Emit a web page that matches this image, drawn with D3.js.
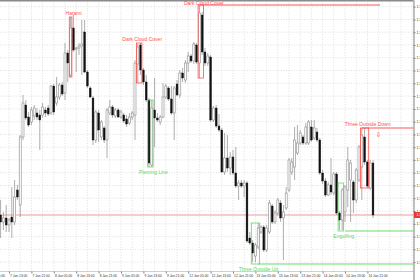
<!DOCTYPE html>
<html>
<head>
<meta charset="utf-8">
<script src="https://cdn.jsdelivr.net/npm/d3@7"></script>
<style>
  html, body { margin: 0; padding: 0; background: #fff; overflow: hidden; }
  svg { display: block; font-family: "Liberation Sans", Arial, sans-serif; }
</style>
</head>
<body>
<div id="wrapper"></div>
<script>
// H1 bars, [open, high, low, close]
const candles = [
    [1.1785, 1.1800, 1.1762, 1.1778], [1.1778, 1.1788, 1.1770, 1.1782], [1.1782, 1.1795, 1.1768, 1.1775],
    [1.1775, 1.1782, 1.1768, 1.1780], [1.1783, 1.1813, 1.1762, 1.1778], [1.1778, 1.1820, 1.1775, 1.1803],
    [1.1810, 1.1815, 1.1800, 1.1803], [1.1795, 1.1865, 1.1783, 1.1863], [1.1863, 1.1905, 1.1860, 1.1897],
    [1.1895, 1.1900, 1.1880, 1.1882], [1.1883, 1.1888, 1.1873, 1.1875], [1.1878, 1.1893, 1.1875, 1.1890],
    [1.1884, 1.1895, 1.1880, 1.1892], [1.1887, 1.1892, 1.1880, 1.1883], [1.1885, 1.1890, 1.1850, 1.1880],
    [1.1885, 1.1897, 1.1882, 1.1893], [1.1890, 1.1893, 1.1883, 1.1887], [1.1892, 1.1895, 1.1884, 1.1886],
    [1.1887, 1.1915, 1.1885, 1.1914], [1.1914, 1.1916, 1.1885, 1.1888], [1.1897, 1.1923, 1.1894, 1.1903],
    [1.1903, 1.1917, 1.1900, 1.1915], [1.1915, 1.1918, 1.1904, 1.1906], [1.1907, 1.1957, 1.1900, 1.1947],
    [1.1947, 1.1950, 1.1918, 1.1937], [1.1925, 1.1983, 1.1923, 1.1972], [1.1972, 1.1985, 1.1948, 1.1950],
    [1.1951, 1.1953, 1.1928, 1.1952], [1.1952, 1.1957, 1.1945, 1.1954], [1.1954, 1.1980, 1.1925, 1.1956],
    [1.1968, 1.1980, 1.1927, 1.1928], [1.1928, 1.1930, 1.1912, 1.1914], [1.1912, 1.1914, 1.1902, 1.1903],
    [1.1902, 1.1904, 1.1855, 1.1860], [1.1860, 1.1890, 1.1857, 1.1888], [1.1887, 1.1890, 1.1858, 1.1870],
    [1.1863, 1.1880, 1.1860, 1.1878], [1.1872, 1.1874, 1.1857, 1.1860], [1.1860, 1.1892, 1.1842, 1.1890],
    [1.1887, 1.1900, 1.1885, 1.1893], [1.1893, 1.1895, 1.1882, 1.1885], [1.1884, 1.1892, 1.1882, 1.1890],
    [1.1890, 1.1892, 1.1882, 1.1883], [1.1883, 1.1890, 1.1881, 1.1888], [1.1885, 1.1887, 1.1877, 1.1879],
    [1.1881, 1.1885, 1.1873, 1.1876], [1.1877, 1.1887, 1.1875, 1.1883], [1.1883, 1.1889, 1.1880, 1.1887],
    [1.1885, 1.1940, 1.1860, 1.1937], [1.1936, 1.1956, 1.1917, 1.1953], [1.1955, 1.1957, 1.1925, 1.1930],
    [1.1930, 1.1932, 1.1915, 1.1918], [1.1918, 1.1925, 1.1898, 1.1900], [1.1900, 1.1902, 1.1833, 1.1837],
    [1.1835, 1.1900, 1.1833, 1.1892], [1.1890, 1.1922, 1.1853, 1.1882], [1.1882, 1.1887, 1.1878, 1.1880],
    [1.1878, 1.1885, 1.1875, 1.1883], [1.1883, 1.1917, 1.1882, 1.1903], [1.1903, 1.1916, 1.1901, 1.1914],
    [1.1912, 1.1914, 1.1899, 1.1901], [1.1901, 1.1914, 1.1885, 1.1887], [1.1887, 1.1914, 1.1860, 1.1912],
    [1.1916, 1.1920, 1.1904, 1.1905], [1.1905, 1.1930, 1.1902, 1.1927], [1.1927, 1.1932, 1.1918, 1.1922],
    [1.1920, 1.1940, 1.1917, 1.1937], [1.1937, 1.1948, 1.1928, 1.1944], [1.1944, 1.1946, 1.1937, 1.1939],
    [1.1939, 1.1958, 1.1936, 1.1956], [1.1955, 1.1957, 1.1936, 1.1938], [1.1937, 1.1995, 1.1922, 1.1987],
    [1.1985, 1.1988, 1.1945, 1.1948], [1.1948, 1.1952, 1.1934, 1.1937], [1.1937, 1.1947, 1.1934, 1.1944],
    [1.1943, 1.1945, 1.1878, 1.1880], [1.1880, 1.1894, 1.1878, 1.1892], [1.1892, 1.1895, 1.1872, 1.1874],
    [1.1874, 1.1886, 1.1868, 1.1870], [1.1870, 1.1872, 1.1827, 1.1828], [1.1828, 1.1867, 1.1825, 1.1842],
    [1.1842, 1.1865, 1.1828, 1.1832], [1.1832, 1.1848, 1.1825, 1.1843], [1.1843, 1.1850, 1.1825, 1.1827],
    [1.1827, 1.1853, 1.1812, 1.1814], [1.1814, 1.1820, 1.1800, 1.1817], [1.1817, 1.1820, 1.1812, 1.1814],
    [1.1814, 1.1820, 1.1803, 1.1817], [1.1817, 1.1819, 1.1757, 1.1759], [1.1762, 1.1768, 1.1755, 1.1757],
    [1.1757, 1.1760, 1.1738, 1.1747], [1.1744, 1.1757, 1.1738, 1.1755], [1.1753, 1.1777, 1.1751, 1.1772],
    [1.1768, 1.1775, 1.1766, 1.1773], [1.1773, 1.1775, 1.1748, 1.1750], [1.1750, 1.1775, 1.1748, 1.1772],
    [1.1768, 1.1800, 1.1766, 1.1797], [1.1794, 1.1796, 1.1776, 1.1778], [1.1778, 1.1790, 1.1776, 1.1787],
    [1.1787, 1.1802, 1.1785, 1.1800], [1.1797, 1.1800, 1.1778, 1.1782], [1.1782, 1.1795, 1.1740, 1.1788],
    [1.1792, 1.1813, 1.1790, 1.1807], [1.1810, 1.1842, 1.1808, 1.1840], [1.1828, 1.1842, 1.1825, 1.1838],
    [1.1833, 1.1873, 1.1820, 1.1860], [1.1847, 1.1875, 1.1845, 1.1857], [1.1857, 1.1870, 1.1855, 1.1867],
    [1.1863, 1.1865, 1.1855, 1.1857], [1.1857, 1.1877, 1.1855, 1.1873], [1.1857, 1.1880, 1.1855, 1.1878],
    [1.1873, 1.1880, 1.1858, 1.1860], [1.1862, 1.1880, 1.1860, 1.1872], [1.1868, 1.1872, 1.1858, 1.1860],
    [1.1860, 1.1862, 1.1825, 1.1827], [1.1827, 1.1830, 1.1816, 1.1819], [1.1819, 1.1822, 1.1803, 1.1805],
    [1.1805, 1.1818, 1.1804, 1.1815], [1.1815, 1.1842, 1.1805, 1.1808], [1.1807, 1.1828, 1.1805, 1.1826],
    [1.1826, 1.1828, 1.1785, 1.1787], [1.1787, 1.1789, 1.1770, 1.1780], [1.1780, 1.1812, 1.1770, 1.1810],
    [1.1788, 1.1815, 1.1778, 1.1813], [1.1810, 1.1853, 1.1793, 1.1840], [1.1820, 1.1840, 1.1778, 1.1837],
    [1.1818, 1.1820, 1.1787, 1.1800], [1.1800, 1.1832, 1.1797, 1.1830], [1.1820, 1.1855, 1.1818, 1.1853],
    [1.1833, 1.1872, 1.1800, 1.1865], [1.1863, 1.1872, 1.1835, 1.1838], [1.1838, 1.1840, 1.1812, 1.1814],
    [1.1812, 1.1840, 1.1810, 1.1837], [1.1837, 1.1840, 1.1782, 1.1785]
];

// one label every 8 bars, first one is bar -5 (cut off at the left edge)
const timeLabels = [
    "7 Jan 05:00", "7 Jan 13:00", "7 Jan 21:00", "8 Jan 05:00", "8 Jan 13:00", "8 Jan 21:00",
    "9 Jan 05:00", "9 Jan 13:00", "9 Jan 21:00", "12 Jan 05:00", "12 Jan 13:00", "12 Jan 21:00",
    "13 Jan 05:00", "13 Jan 13:00", "13 Jan 21:00", "14 Jan 05:00", "14 Jan 13:00", "14 Jan 21:00"
];

const priceTicks = [
    1.19933, 1.19805, 1.19678, 1.19550, 1.19422, 1.19295, 1.19167, 1.19039, 1.18911, 1.18784, 1.18656,
    1.18528, 1.18401, 1.18273, 1.18145, 1.18018, 1.17890, 1.17762, 1.17634, 1.17507, 1.17379
];

const patterns = [
    {name: "Harami", from: 25, to: 25, top: 1.1983, bottom: 1.1923, bull: false},
    {name: "Dark Cloud Cover", from: 49, to: 50, top: 1.1957, bottom: 1.1917, bull: false},
    {name: "Dark Cloud Cover", from: 71, to: 72, top: 1.1995, bottom: 1.1922, bull: false},
    {name: "Piercing Line", from: 53, to: 54, top: 1.1900, bottom: 1.1833, bull: true},
    {name: "Three Outside Up", from: 90, to: 92, top: 1.1777, bottom: 1.1736, bull: true},
    {name: "Engulfing", from: 121, to: 122, top: 1.1817, bottom: 1.1769, bull: true},
    {name: "Three Outside Down", from: 129, to: 131, top: 1.1872, bottom: 1.1812, bull: false, arrow: true}
];

// to: null means the line runs to the price scale
const levels = [
    {price: 1.1995, from: 71, to: 135.5, bull: false},
    {price: 1.1872, from: 129, to: null, bull: false},
    {price: 1.1769, from: 123, to: null, bull: true},
    {price: 1.1736, from: 92, to: null, bull: true}
];

const dimension = {width: 420, height: 280, right: 413.5, bottom: 271.5};
const red = "#ff5050", green = "#62d862";

const x = d3.scaleLinear().domain([0, candles.length - 1]).range([0.6, 373]);
const y = d3.scaleLinear().domain([1.2, 1.172]).range([0, 280]);

const wrapper = d3.select("#wrapper")
    .append("svg")
    .attr("width", dimension.width)
    .attr("height", dimension.height);

wrapper.append("clipPath").attr("id", "plot-clip")
    .append("rect")
    .attr("width", dimension.right)
    .attr("height", dimension.bottom);

const plot = wrapper.append("g").attr("clip-path", "url(#plot-clip)");

// dotted grid
plot.selectAll(".hgrid")
    .data(priceTicks)
    .enter()
    .append("line")
    .attr("x1", 0)
    .attr("x2", dimension.right)
    .attr("y1", d => y(d))
    .attr("y2", d => y(d))
    .attr("stroke", "#c9c9c9")
    .attr("stroke-width", 0.6)
    .attr("stroke-dasharray", "1,1.6");

plot.selectAll(".vgrid")
    .data(d3.range(3, 148, 4))
    .enter()
    .append("line")
    .attr("x1", d => x(d))
    .attr("x2", d => x(d))
    .attr("y1", 0)
    .attr("y2", dimension.bottom)
    .attr("stroke", "#c9c9c9")
    .attr("stroke-width", 0.6)
    .attr("stroke-dasharray", "1,1.6");

const lastClose = candles[candles.length - 1][3];

plot.append("line")
    .attr("x1", 0)
    .attr("x2", dimension.right)
    .attr("y1", y(lastClose))
    .attr("y2", y(lastClose))
    .attr("stroke", "#e07070")
    .attr("stroke-width", 0.7);

const bars = plot.selectAll(".bar")
    .data(candles)
    .enter()
    .append("g");

bars.append("line")
    .attr("x1", (d, i) => x(i))
    .attr("x2", (d, i) => x(i))
    .attr("y1", d => y(d[1]))
    .attr("y2", d => y(d[2]))
    .attr("stroke", "#8c8c8c")
    .attr("stroke-width", 0.7);

bars.append("rect")
    .attr("x", (d, i) => x(i) - (d[3] >= d[0] ? 1.0 : 0.9))
    .attr("width", d => d[3] >= d[0] ? 2.0 : 1.8)
    .attr("y", d => y(Math.max(d[0], d[3])))
    .attr("height", d => Math.max(0.6, Math.abs(y(d[0]) - y(d[3]))))
    .attr("fill", d => d[3] >= d[0] ? "#fff" : "#111")
    .attr("stroke", d => d[3] >= d[0] ? "#8a8a8a" : "#111")
    .attr("stroke-width", d => d[3] >= d[0] ? 0.6 : 0.4);

// pattern boxes, labels and levels
plot.selectAll(".level")
    .data(levels)
    .enter()
    .append("line")
    .attr("x1", d => x(d.from))
    .attr("x2", d => d.to === null ? dimension.right : x(d.to))
    .attr("y1", d => y(d.price))
    .attr("y2", d => y(d.price))
    .attr("stroke", d => d.bull ? "#9ce89c" : "#f25a5a")
    .attr("stroke-width", d => d.bull ? 1.6 : 1.2);

plot.selectAll(".box")
    .data(patterns)
    .enter()
    .append("rect")
    .attr("x", d => x(d.from) - 1.3)
    .attr("width", d => x(d.to) - x(d.from) + 2.6)
    .attr("y", d => y(d.top))
    .attr("height", d => y(d.bottom) - y(d.top))
    .attr("fill", "none")
    .attr("stroke", d => d.bull ? green : red)
    .attr("stroke-width", 0.8);

plot.selectAll(".plabel")
    .data(patterns)
    .enter()
    .append("text")
    .attr("x", d => (x(d.from) + x(d.to)) / 2 + 3)
    .attr("y", d => d.bull ? y(d.bottom) + 7 : Math.max(4.6, y(d.top) - 2))
    .attr("text-anchor", "middle")
    .attr("font-size", 5)
    .attr("fill", d => d.bull ? green : red)
    .text(d => d.name);

plot.selectAll(".arrow")
    .data(patterns.filter(d => d.arrow))
    .enter()
    .append("text")
    .attr("x", d => x(d.to) + 11)
    .attr("y", d => y(d.top) + 8.5)
    .attr("text-anchor", "middle")
    .attr("font-family", "DejaVu Sans")
    .attr("font-size", 7)
    .attr("fill", red)
    .text("\u21E9");

// frame
wrapper.append("line")
    .attr("x1", 0).attr("x2", dimension.right)
    .attr("y1", 0.7).attr("y2", 0.7)
    .attr("stroke", "#8a8a8a").attr("stroke-width", 1.4);

wrapper.append("line")
    .attr("x1", 0).attr("x2", dimension.right)
    .attr("y1", dimension.bottom).attr("y2", dimension.bottom)
    .attr("stroke", "#b0b0b0").attr("stroke-width", 0.6);

const yAxis = wrapper.append("g")
    .attr("transform", `translate(${dimension.right},0)`)
    .call(d3.axisRight(y).tickValues(priceTicks).tickFormat(d3.format(".5f")).tickSize(2).tickSizeOuter(0).tickPadding(1));

yAxis.select(".domain").attr("stroke", "#808080");
yAxis.selectAll(".tick line").attr("stroke", "#808080");
yAxis.selectAll("text").attr("font-size", 3.4).attr("fill", "#333").attr("font-family", "Liberation Sans");

const priceTag = wrapper.append("g")
    .attr("transform", `translate(${dimension.right},${y(lastClose)})`);

priceTag.append("rect")
    .attr("x", 0.5).attr("y", -3)
    .attr("width", 10).attr("height", 6)
    .attr("fill", "#e23a3a");

priceTag.append("text")
    .attr("x", 3).attr("y", 1.3)
    .attr("font-size", 3.4)
    .attr("fill", "#fff")
    .text(d3.format(".5f")(lastClose));

const xAxis = wrapper.append("g")
    .attr("transform", `translate(0,${dimension.bottom})`)
    .call(d3.axisBottom(x)
        .tickValues(timeLabels.map((d, i) => -5 + i * 8))
        .tickFormat((d, i) => timeLabels[i])
        .tickSize(2)
        .tickSizeOuter(0)
        .tickPadding(1));

xAxis.select(".domain").remove();
xAxis.selectAll(".tick line").attr("stroke", "#808080");
xAxis.selectAll("text")
    .attr("text-anchor", "start")
    .attr("dx", 0.6)
    .attr("font-size", 3.3)
    .attr("fill", "#333")
    .attr("font-family", "Liberation Sans");
</script>
</body>
</html>
